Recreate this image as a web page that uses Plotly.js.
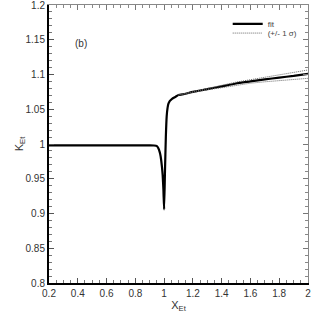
<!DOCTYPE html>
<html>
<head>
<meta charset="utf-8">
<script src="https://cdn.plot.ly/plotly-3.0.1.min.js"></script>
<style>html,body{margin:0;padding:0;background:#fff;}#chart{width:314px;height:313px;}</style>
</head>
<body>
<div id="chart"></div>
<script>
// Data
const xFit = [0.2, 0.4, 0.6, 0.8, 0.9, 0.93, 0.95, 0.96, 0.97, 0.976, 0.985, 0.99, 0.995, 1.0,
              1.006, 1.012, 1.018, 1.024, 1.03, 1.04, 1.055, 1.08, 1.1, 1.14, 1.2, 1.3, 1.4,
              1.5, 1.6, 1.7, 1.8, 1.9, 2.0];
const fitY = [0.998, 0.998, 0.998, 0.998, 0.998, 0.9978, 0.997, 0.994, 0.988, 0.982, 0.967, 0.955, 0.935, 0.906,
              0.96, 1.01, 1.04, 1.052, 1.058, 1.062, 1.065, 1.068, 1.0705, 1.072, 1.075, 1.079, 1.083,
              1.087, 1.090, 1.093, 1.0955, 1.098, 1.101];
const xSigma = [1.1, 1.2, 1.3, 1.4, 1.5, 1.6, 1.7, 1.8, 1.9, 2.0];
const sigmaUpper = [1.0707, 1.0755, 1.0800, 1.0845, 1.089, 1.0925, 1.096, 1.0995, 1.103, 1.1065];
const sigmaLower = [1.0703, 1.0745, 1.078, 1.081, 1.0845, 1.0875, 1.0895, 1.0915, 1.093, 1.0945];
const xTicks = [0.2, 0.4, 0.6, 0.8, 1, 1.2, 1.4, 1.6, 1.8, 2];
const xTickText = ['0.2', '0.4', '0.6', '0.8', '1', '1.2', '1.4', '1.6', '1.8', '2'];
const yTicks = [0.8, 0.85, 0.9, 0.95, 1, 1.05, 1.1, 1.15, 1.2];
const yTickText = ['0.8', '0.85', '0.9', '0.95', '1', '1.05', '1.1', '1.15', '1.2'];

const FONT = 'Liberation Sans, Arial, Helvetica, sans-serif';
const DOT = '1px,1px';

const traces = [
  {x: xFit, y: fitY, mode: 'lines', name: 'fit', legend: 'legend',
   line: {color: '#000', width: 2.2, shape: 'spline', smoothing: 0.5}},
  {x: xSigma, y: sigmaUpper, mode: 'lines', name: '(+/- 1 σ)', legend: 'legend2',
   line: {color: '#666', width: 1, dash: DOT}},
  {x: xSigma, y: sigmaLower, mode: 'lines', name: '(+/- 1 σ)', showlegend: false,
   line: {color: '#666', width: 1, dash: DOT}},
  {x: [0.2, 2], y: [0.8, 0.8], xaxis: 'x2', yaxis: 'y2', mode: 'none', showlegend: false, hoverinfo: 'skip'}
];

const legendBase = {xanchor: 'left', yanchor: 'middle', bgcolor: 'rgba(0,0,0,0)', borderwidth: 0,
                    font: {family: FONT, size: 8, color: '#444'}, itemwidth: 30};

const layout = {
  width: 314, height: 313,
  margin: {l: 49, r: 6, t: 5, b: 30},
  paper_bgcolor: '#fff', plot_bgcolor: '#fff',
  font: {family: FONT, size: 10, color: '#333'},
  showlegend: true,
  legend: Object.assign({}, legendBase, {x: 0.69, y: 0.932}),
  legend2: Object.assign({}, legendBase, {x: 0.69, y: 0.899}),
  xaxis: {range: [0.2, 2], tickvals: xTicks, ticktext: xTickText, ticks: 'inside', ticklen: 5,
          tickcolor: '#555', showline: true, linecolor: '#000', linewidth: 2, showgrid: false, zeroline: false,
          ticklabeloverflow: 'allow',
          minor: {dtick: 0.05, tick0: 0.2, ticks: 'inside', ticklen: 3, tickcolor: '#777'},
          tickfont: {size: 10, color: '#333'},
          title: {text: 'X<sub>Et</sub>', font: {size: 11, color: '#333'}, standoff: 2}},
  yaxis: {range: [0.8, 1.2], tickvals: yTicks, ticktext: yTickText, ticks: 'inside', ticklen: 5,
          tickcolor: '#555', showline: true, linecolor: '#000', linewidth: 2, showgrid: false, zeroline: false,
          ticklabeloverflow: 'allow',
          minor: {dtick: 0.01, tick0: 0.8, ticks: 'inside', ticklen: 3, tickcolor: '#777'},
          tickfont: {size: 10, color: '#333'},
          title: {text: 'K<sub>Et</sub>', font: {size: 11, color: '#333'}, standoff: 0}},
  xaxis2: {range: [0.2, 2], overlaying: 'x', side: 'top', anchor: 'y2', tickvals: xTicks, showticklabels: false,
           ticks: 'inside', ticklen: 5, tickcolor: '#777', showline: true, linecolor: '#888', linewidth: 1,
           showgrid: false, zeroline: false,
           minor: {dtick: 0.05, tick0: 0.2, ticks: 'inside', ticklen: 3, tickcolor: '#888'}},
  yaxis2: {range: [0.8, 1.2], overlaying: 'y', side: 'right', anchor: 'x2', tickvals: yTicks, showticklabels: false,
           ticks: 'inside', ticklen: 5, tickcolor: '#777', showline: true, linecolor: '#888', linewidth: 1,
           showgrid: false, zeroline: false,
           minor: {dtick: 0.01, tick0: 0.8, ticks: 'inside', ticklen: 3, tickcolor: '#888'}},
  annotations: [
    {text: '(b)', xref: 'paper', yref: 'paper', x: 0.093, y: 0.89, showarrow: false,
     font: {family: FONT, size: 10, color: '#333'}}
  ]
};

Plotly.newPlot('chart', traces, layout, {displayModeBar: false, staticPlot: true});
</script>
</body>
</html>
